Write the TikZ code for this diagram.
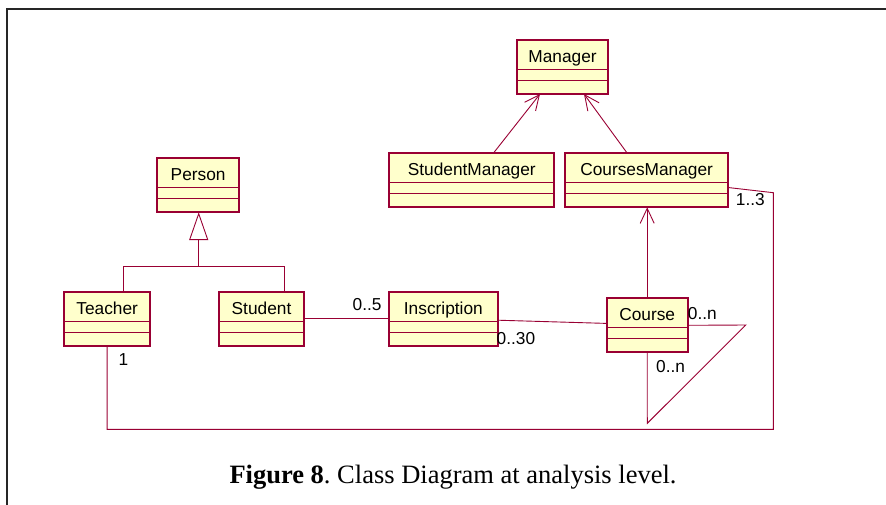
\documentclass[tikz,border=0pt]{standalone}
\usepackage{fontspec}
\setmainfont{Liberation Serif}
\newfontfamily\umlfont{Liberation Sans}
\usetikzlibrary{arrows.meta,calc}
\frenchspacing

\definecolor{umlline}{HTML}{990033}
\definecolor{umlfill}{HTML}{FFFFCC}

\tikzset{
  classbox/.style={draw=umlline, fill=umlfill, line width=1.7pt, anchor=north west,
                   minimum height=54pt, inner sep=0pt, outer sep=0pt},
  classrule/.style={draw=umlline, line width=1.1pt},
  classname/.style={font=\umlfont\fontsize{17.3}{18}\selectfont, inner sep=0pt, anchor=base},
  mult/.style={font=\umlfont\fontsize{17.3}{18}\selectfont, inner sep=0pt, anchor=base west},
  assoc/.style={draw=umlline, line width=0.9pt},
  navig/.style={assoc, -{Straight Barb[length=15pt,width=14pt]}},
  inherit/.style={assoc, -{Triangle[open,length=27.7pt,width=19pt,fill=white]}},
  frameline/.style={draw=black!85, line width=2pt},
}

% class box: name, left x, top y, width, title
\newcommand\umlclass[5]{%
  \node[classbox, minimum width=#4pt] (#1) at (#2,#3) {};
  \draw[classrule] ([yshift=-29.5pt]#1.north west) -- ([yshift=-29.5pt]#1.north east)
                   ([yshift=-40.5pt]#1.north west) -- ([yshift=-40.5pt]#1.north east);
  \node[classname] (#1-name) at ([yshift=-22.3pt]#1.north) {#5};
}

\begin{document}
\begin{tikzpicture}[x=1pt,y=-1pt]
  \useasboundingbox (0,0) rectangle (886,504);

  % page frame
  \draw[frameline] (6.7,506) -- (6.7,9) -- (888,9);

  % classes
  \umlclass{mgr}{516.7}{40}{91.6}{Manager}
  \umlclass{smgr}{389.3}{153.3}{165}{StudentManager}
  \umlclass{cmgr}{565.3}{153.3}{162.7}{CoursesManager}
  \umlclass{person}{157.3}{158.3}{81.7}{Person}
  \umlclass{tch}{64.3}{291.7}{85.7}{Teacher}
  \umlclass{std}{219.3}{291.7}{84.4}{Student}
  \umlclass{ins}{389}{291.7}{108.7}{Inscription}
  \umlclass{crs}{606.7}{298.3}{81}{Course}

  % managers
  \coordinate (sm-top) at (493.3,153.3);
  \coordinate (mg-bot0) at (540,94);
  \draw[navig] (sm-top) -- (mg-bot0);
  \coordinate (cm-top) at (627.3,153.3);
  \coordinate (mg-bot1) at (584,94);
  \draw[navig] (cm-top) -- (mg-bot1);

  % generalisation tree
  \coordinate (gj) at (198.7,266);
  \coordinate (gl) at (123,266);
  \coordinate (gr) at (284.3,266);
  \draw[assoc] (gl |- tch.north) -- (gl) -- (gr) -- (gr |- std.north);
  \draw[inherit] (gj) -- (gj |- person.south);

  % associations
  \draw[assoc] (std.east) -- (ins.west);
  \draw[assoc] ($(ins.east)+(0,1.5)$) -- ($(crs.west)+(0,-1.9)$);
  \draw[navig] (crs.north) -- (crs.north |- cmgr.south);

  % course self-association
  \coordinate (loop-r) at (745.7,325);
  \coordinate (loop-b) at (647.3,423.3);
  \draw[assoc] (crs.east) -- (loop-r) -- (loop-b) -- (crs.south);

  % teacher to courses manager
  \coordinate (tb) at (106.7,429.3);
  \coordinate (rb) at (773.3,429.3);
  \coordinate (rt) at (773.3,192.7);
  \coordinate (cme) at (728,187.5);
  \draw[assoc] (tch.south) -- (tch.south |- tb) -- (rb) -- (rt) -- (cme);

  % multiplicities
  \node[mult] (m-std) at (352.5,310.7) {0..5};
  \node[mult] (m-ins) at (496.5,344) {0..30};
  \node[mult] (m-crs1) at (687.7,319.3) {0..n};
  \node[mult] (m-crs2) at (656,372.7) {0..n};
  \node[mult] (m-cm) at (735.7,205.7) {1..3};
  \node[mult] (m-tch) at (118.5,365) {1};

  % caption
  \node[font=\fontsize{26.5}{30}\selectfont, inner sep=0pt, anchor=base] (caption)
    at (453,483.5) {\textbf{Figure 8}. Class Diagram at analysis level.};
\end{tikzpicture}
\end{document}
